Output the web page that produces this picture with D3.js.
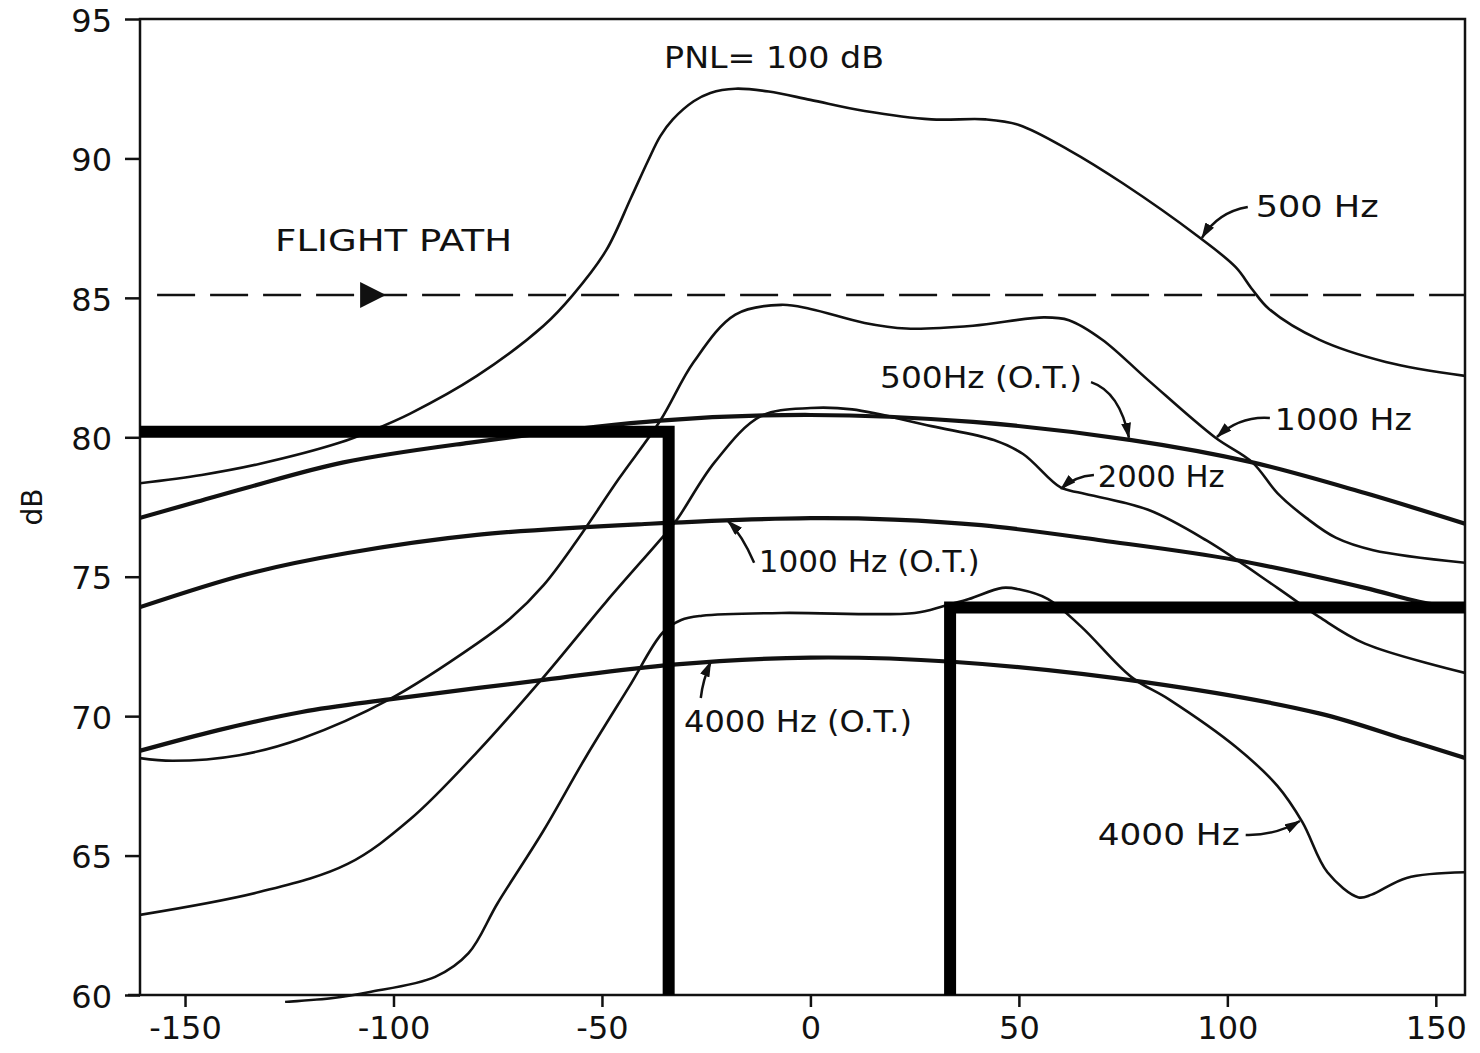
<!DOCTYPE html>
<html>
<head>
<meta charset="utf-8">
<script src="https://cdn.jsdelivr.net/npm/d3@7"></script>
<style>
  body { margin: 0; background: #fff; }
  text { font-family: "DejaVu Sans", sans-serif; fill: #111; }
</style>
</head>
<body>
<div id="vis"></div>
<script>
// values: [position, dB]
const hz500 = [[-161, 78.35], [-146, 78.65], [-132, 79.05], [-113, 79.8], [-105, 80.25], [-96, 80.85], [-80, 82.2], [-64, 84.0], [-57, 85.1],
  [-49, 86.7], [-43, 88.6], [-39, 89.9], [-36, 90.8], [-33, 91.4], [-28, 92.05], [-24, 92.35], [-18, 92.5], [-10, 92.4], [0, 92.1],
  [13, 91.7], [29, 91.4], [42, 91.4], [50, 91.2], [62, 90.3], [75, 89.1], [93, 87.2], [102, 86.1], [106, 85.3], [110, 84.6],
  [122, 83.5], [138, 82.7], [157, 82.2]];
const hz500ot = [[-161, 77.1], [-148, 77.65], [-135, 78.2], [-112, 79.1], [-82, 79.8], [-36, 80.6], [0, 80.8], [39, 80.55],
  [77, 79.9], [106, 79.1], [133, 78.0], [157, 76.9]];
const hz1000 = [[-161, 68.5], [-153, 68.4], [-137, 68.6], [-122, 69.2], [-101, 70.6], [-80, 72.6], [-72, 73.5], [-64, 74.7], [-56, 76.3],
  [-46, 78.5], [-36, 80.6], [-28, 82.7], [-18, 84.4], [-7, 84.75], [0, 84.6], [13, 84.1], [23, 83.9], [39, 84.0], [56, 84.3],
  [62, 84.2], [70, 83.5], [81, 82.05], [97, 80.0], [106, 79.1], [112, 78.0], [119, 77.1], [126, 76.4], [135, 75.95], [157, 75.5]];
const hz2000 = [[-161, 62.87], [-132, 63.7], [-111, 64.7], [-96, 66.3], [-80, 68.7], [-64, 71.4], [-49, 74.1], [-35, 76.5],
  [-32, 77.05], [-23, 79.1], [-12, 80.75], [0, 81.05], [10, 81.0], [29, 80.4], [44, 79.9], [51, 79.4], [60, 78.2], [65, 78.0],
  [81, 77.4], [95, 76.3], [112, 74.6], [122, 73.56], [133, 72.6], [157, 71.55]];
const hz4000 = [[-126, 59.75], [-114, 59.9], [-106, 60.1], [-90, 60.65], [-82, 61.5], [-75, 63.3], [-64, 65.9], [-54, 68.5],
  [-43.5, 71.05], [-35.4, 73.0], [-31, 73.45], [-26, 73.6], [-7, 73.7], [25, 73.7], [32, 73.95], [38, 74.2], [46, 74.6],
  [50, 74.55], [57, 74.2], [65, 73.2], [77, 71.4], [86, 70.6], [102, 68.9], [112, 67.5], [118, 66.2], [124, 64.4],
  [131.5, 63.5], [134.6, 63.6], [143, 64.2], [157, 64.4]];
const hz1000ot = [[-161, 73.9], [-135, 75.1], [-111, 75.85], [-80, 76.5], [-38.5, 76.9], [0, 77.1], [20, 77.05], [41, 76.85],
  [70, 76.3], [102, 75.6], [133, 74.6], [146, 74.1], [157, 73.85]];
const hz4000ot = [[-161, 68.75], [-142, 69.5], [-122, 70.15], [-101, 70.6], [-64, 71.3], [-33, 71.85], [0, 72.1], [34, 71.95],
  [81, 71.2], [122, 70.1], [143, 69.15], [157, 68.5]];
const stepLeft = [[-161, 80.2], [-34, 80.2], [-34, 60]];
const stepRight = [[33.5, 60], [33.5, 73.9], [157, 73.9]];
const flightPath = 85.1;

const xTicks = [-150, -100, -50, 0, 50, 100, 150];
const yTicks = [60, 65, 70, 75, 80, 85, 90, 95];

// label text, text start [x, dB], text width, arrow from / bend / to
const notes = [
  {text: '500 Hz', at: [106.8, 87.9], w: 123, arrow: [[104.9, 88.26], [97.7, 88.08], [93.9, 87.15]]},
  {text: '500Hz (O.T.)', at: [16.7, 81.77], w: 202, arrow: [[67.3, 81.98], [74.2, 81.63], [76.4, 79.98]]},
  {text: '1000 Hz', at: [111.4, 80.26], w: 137, arrow: [[110.2, 80.69], [103, 80.77], [97.5, 80.01]]},
  {text: '2000 Hz', at: [68.9, 78.22], w: 127, arrow: [[68, 78.65], [63.4, 78.61], [60.1, 78.15]]},
  {text: '1000 Hz (O.T.)', at: [-12.4, 75.17], w: 221, arrow: [[-13.5, 75.5], [-16.4, 76.5], [-19.8, 77.0]]},
  {text: '4000 Hz (O.T.)', at: [-30.3, 69.44], w: 228, arrow: [[-26.3, 70.65], [-25.8, 71.3], [-23.9, 71.95]]},
  {text: '4000 Hz', at: [68.9, 65.38], w: 142, arrow: [[104.4, 65.74], [111.4, 65.71], [117.4, 66.24]]},
  {text: 'PNL= 100 dB', at: [-35.1, 93.24], w: 220, arrow: null},
  {text: 'FLIGHT PATH', at: [-128.4, 86.68], w: 237, arrow: null}
];

const margin = {top: 19, right: 15, bottom: 58, left: 140};
const W = 1480, H = 1053;
const width = W - margin.left - margin.right;
const height = H - margin.top - margin.bottom;

const svg = d3.select('#vis').append('svg')
  .attr('width', W)
  .attr('height', H);

const g = svg.append('g')
  .attr('transform', `translate(${margin.left},${margin.top})`);

const x = d3.scaleLinear().domain([-160.8, 157]).range([0, width]);
const y = d3.scaleLinear().domain([60, 95]).range([height, 0]);

const defs = svg.append('defs');
defs.append('clipPath').attr('id', 'plot')
  .append('rect').attr('x', 0).attr('y', -2).attr('width', width).attr('height', height + 10);
defs.append('marker')
  .attr('id', 'head')
  .attr('viewBox', '0 0 16 10')
  .attr('refX', 15).attr('refY', 5)
  .attr('markerWidth', 16).attr('markerHeight', 10)
  .attr('markerUnits', 'userSpaceOnUse')
  .attr('orient', 'auto')
  .append('path').attr('d', 'M0,0 L16,5 L0,10 Z').attr('fill', '#111');

// axes
const yAxis = g.append('g')
  .call(d3.axisLeft(y).tickValues(yTicks).tickSize(15).tickPadding(13).tickFormat(d => String(d)));
const xAxis = g.append('g')
  .attr('transform', `translate(0,${height})`)
  .call(d3.axisBottom(x).tickValues(xTicks).tickSize(12).tickPadding(9).tickFormat(d => String(d)));
[xAxis, yAxis].forEach(a => {
  a.select('.domain').remove();
  a.selectAll('line').attr('stroke', '#111').attr('stroke-width', 2.5);
  a.selectAll('text').style('font-size', '32px').attr('fill', '#111');
});
yAxis.selectAll('text').attr('dy', '0.38em');

g.append('rect')
  .attr('width', width).attr('height', height)
  .attr('fill', 'none').attr('stroke', '#111').attr('stroke-width', 2.5);
g.append('line')
  .attr('x1', -12).attr('x2', 0).attr('y1', height).attr('y2', height)
  .attr('stroke', '#111').attr('stroke-width', 2.5);

svg.append('text')
  .attr('transform', `translate(42,${margin.top + height / 2}) rotate(-90)`)
  .attr('text-anchor', 'middle')
  .style('font-size', '28px')
  .text('dB');

// flight path
const plot = g.append('g').attr('clip-path', 'url(#plot)');
plot.append('line')
  .attr('x1', x(-156.7)).attr('x2', x(157))
  .attr('y1', y(flightPath)).attr('y2', y(flightPath))
  .attr('stroke', '#111').attr('stroke-width', 2.5)
  .attr('stroke-dasharray', '38,15');
plot.append('path')
  .attr('d', `M${x(-108)},${y(flightPath) - 13} L${x(-101.8)},${y(flightPath)} L${x(-108)},${y(flightPath) + 13} Z`)
  .attr('fill', '#111');

const line = d3.line()
  .x(d => x(d[0]))
  .y(d => y(d[1]))
  .curve(d3.curveCatmullRom.alpha(0.5));

const series = [
  {data: hz500, w: 2.6},
  {data: hz1000, w: 2.6},
  {data: hz2000, w: 2.6},
  {data: hz4000, w: 2.6},
  {data: hz500ot, w: 4.2},
  {data: hz1000ot, w: 4.2},
  {data: hz4000ot, w: 4.2}
];

plot.selectAll('.curve')
  .data(series)
  .join('path')
  .attr('class', 'curve')
  .attr('d', d => line(d.data))
  .attr('fill', 'none')
  .attr('stroke', '#111')
  .attr('stroke-width', d => d.w);

const stepLine = d3.line().x(d => x(d[0])).y(d => y(d[1]));
plot.selectAll('.step')
  .data([stepLeft, stepRight])
  .join('path')
  .attr('class', 'step')
  .attr('d', stepLine)
  .attr('fill', 'none')
  .attr('stroke', '#000')
  .attr('stroke-width', 12)
  .attr('stroke-linejoin', 'miter');

// labels + arrows
g.selectAll('.note')
  .data(notes)
  .join('text')
  .attr('class', 'note')
  .attr('x', d => x(d.at[0]))
  .attr('y', d => y(d.at[1]))
  .attr('textLength', d => d.w)
  .attr('lengthAdjust', 'spacingAndGlyphs')
  .style('font-size', '30px')
  .text(d => d.text);

g.selectAll('.arrow')
  .data(notes.filter(d => d.arrow))
  .join('path')
  .attr('class', 'arrow')
  .attr('d', d => {
    const [a, c, b] = d.arrow;
    return `M${x(a[0])},${y(a[1])} Q${x(c[0])},${y(c[1])} ${x(b[0])},${y(b[1])}`;
  })
  .attr('fill', 'none')
  .attr('stroke', '#111')
  .attr('stroke-width', 2.5)
  .attr('marker-end', 'url(#head)');
</script>
</body>
</html>
